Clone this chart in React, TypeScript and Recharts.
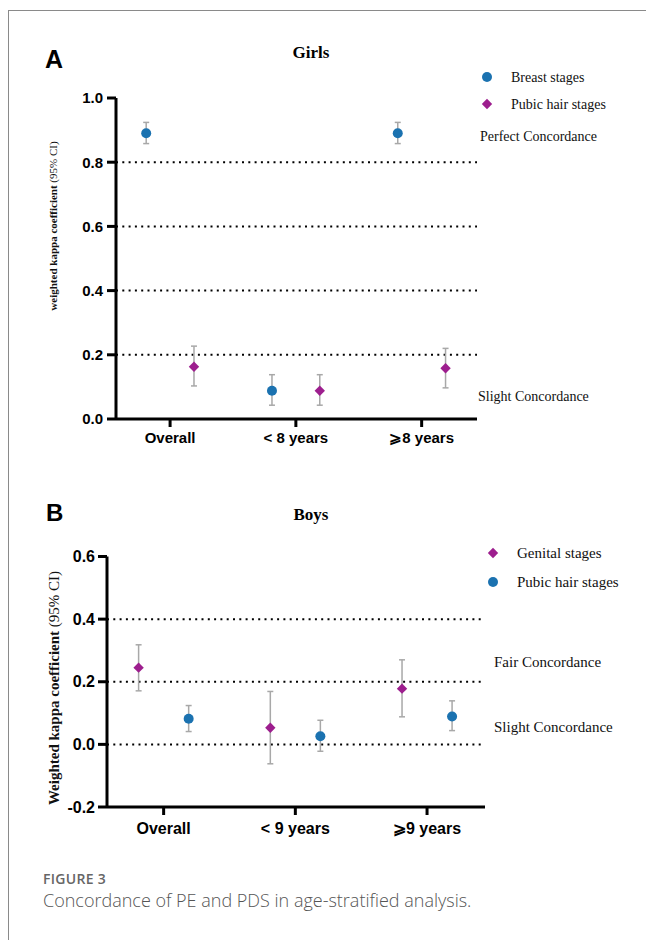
import React from 'react';
import { ScatterChart, Scatter, XAxis, YAxis, ErrorBar, ReferenceLine, Legend } from 'recharts';

// ---------- Data ----------
const girlsCategories = ['Overall', '< 8 years', '\u2A7E8 years'];
const breastKappa = [0.89, 0.088, 0.89];
const breastLow = [0.858, 0.043, 0.858];
const breastHigh = [0.924, 0.138, 0.924];
const girlsPubicKappa = [0.163, 0.088, 0.158];
const girlsPubicLow = [0.103, 0.043, 0.097];
const girlsPubicHigh = [0.227, 0.138, 0.22];
const girlsTicks = [0, 0.2, 0.4, 0.6, 0.8, 1.0];
const girlsRefLines = [0.2, 0.4, 0.6, 0.8];

const boysCategories = ['Overall', '< 9 years', '\u2A7E9 years'];
const genitalKappa = [0.245, 0.053, 0.178];
const genitalLow = [0.171, -0.062, 0.088];
const genitalHigh = [0.318, 0.169, 0.27];
const boysPubicKappa = [0.082, 0.026, 0.089];
const boysPubicLow = [0.041, -0.022, 0.044];
const boysPubicHigh = [0.124, 0.077, 0.139];
const boysTicks = [-0.2, 0, 0.2, 0.4, 0.6];
const boysRefLines = [0, 0.2, 0.4];

// ---------- Styles ----------
const BLUE = '#1b72b0';
const PURPLE = '#9d1e8e';
const ERR = '#a8a8a8';
const SANS = '"Liberation Sans", Arial, sans-serif';
const SERIF = '"Liberation Serif", "Times New Roman", serif';
const OFFSET = 0.19;

function build(vals: number[], lo: number[], hi: number[], shift: number) {
  return vals.map((v, i) => ({ x: i + shift, y: v, err: [v - lo[i], hi[i] - v] }));
}

const CircleShape = (props: any) => (
  <circle cx={props.cx} cy={props.cy} r={5} fill={BLUE} />
);
const DiamondShape = (props: any) => {
  const { cx, cy } = props;
  const s = 5.2;
  return <path d={`M${cx},${cy - s}L${cx + s},${cy}L${cx},${cy + s}L${cx - s},${cy}Z`} fill={PURPLE} />;
};

function LegendBox({ items, fontSize, gap }: { items: { name: string; shape: string }[]; fontSize: number; gap: number }) {
  return (
    <svg width={170} height={60} style={{ overflow: 'visible' }}>
      {items.map((it, i) => {
        const cy = 11 + i * gap;
        return (
          <g key={it.name}>
            {it.shape === 'circle' ? (
              <circle cx={9} cy={cy} r={5} fill={BLUE} />
            ) : (
              <path d={`M9,${cy - 5.2}L14.2,${cy}L9,${cy + 5.2}L3.8,${cy}Z`} fill={PURPLE} />
            )}
            <text x={33} y={cy + fontSize * 0.33} fontFamily={SERIF} fontSize={fontSize} fill="#111">
              {it.name}
            </text>
          </g>
        );
      })}
    </svg>
  );
}

const axisStroke = { stroke: '#000', strokeWidth: 3 };

export default function App() {
  const breastData = build(breastKappa, breastLow, breastHigh, -OFFSET);
  const girlsPubicData = build(girlsPubicKappa, girlsPubicLow, girlsPubicHigh, OFFSET);
  const genitalData = build(genitalKappa, genitalLow, genitalHigh, -OFFSET);
  const boysPubicData = build(boysPubicKappa, boysPubicLow, boysPubicHigh, OFFSET);

  return (
    <div style={{ position: 'absolute', left: 0, top: 0, width: 646, height: 940, overflow: 'hidden', background: '#fff' }}>
      <div style={{ position: 'absolute', left: 8, top: 10, width: 700, height: 1000, borderTop: '1px solid #8a8a8a', borderLeft: '1px solid #8a8a8a' }} />

      {/* Panel A */}
      <div style={{ position: 'absolute', left: 0, top: 0 }}>
        <ScatterChart width={646} height={470} margin={{ top: 98, right: 169, bottom: 11, left: 0 }}>
          <XAxis
            type="number"
            dataKey="x"
            domain={[-0.43, 2.44]}
            ticks={[0, 1, 2]}
            interval={0}
            allowDataOverflow
            tickFormatter={(v: number) => girlsCategories[Math.round(v)]}
            axisLine={axisStroke}
            tickLine={axisStroke}
            tickSize={8}
            tickMargin={5}
            height={40}
            tick={{ fontFamily: SANS, fontWeight: 'bold', fontSize: 15, fill: '#000' }}
          />
          <YAxis
            type="number"
            dataKey="y"
            domain={[0, 1]}
            ticks={girlsTicks}
            interval={0}
            allowDataOverflow
            tickFormatter={(v: number) => v.toFixed(1)}
            axisLine={axisStroke}
            tickLine={axisStroke}
            tickSize={9}
            tickMargin={4}
            width={116}
            tick={{ fontFamily: SANS, fontWeight: 'bold', fontSize: 15, fill: '#000' }}
          />
          {girlsRefLines.map((v) => (
            <ReferenceLine key={v} y={v} stroke="#000" strokeWidth={2} strokeDasharray="2 4.3" />
          ))}
          <Legend
            layout="horizontal"
            verticalAlign="middle"
            align="center"
            wrapperStyle={{ left: 478, top: 66, width: 170, height: 60 }}
            content={() => (
              <LegendBox
                fontSize={14}
                gap={27}
                items={[
                  { name: 'Breast stages', shape: 'circle' },
                  { name: 'Pubic hair stages', shape: 'diamond' },
                ]}
              />
            )}
          />
          <Scatter name="Breast stages" data={breastData} shape={CircleShape} fill={BLUE} isAnimationActive={false}>
            <ErrorBar dataKey="err" direction="y" width={3} stroke={ERR} strokeWidth={1.5} />
          </Scatter>
          <Scatter name="Pubic hair stages" data={girlsPubicData} shape={DiamondShape} fill={PURPLE} isAnimationActive={false}>
            <ErrorBar dataKey="err" direction="y" width={3} stroke={ERR} strokeWidth={1.5} />
          </Scatter>
        </ScatterChart>
      </div>

      {/* Panel B */}
      <div style={{ position: 'absolute', left: 0, top: 480 }}>
        <ScatterChart width={646} height={400} margin={{ top: 76.5, right: 161, bottom: 33, left: 0 }}>
          <XAxis
            type="number"
            dataKey="x"
            domain={[-0.43, 2.44]}
            ticks={[0, 1, 2]}
            interval={0}
            allowDataOverflow
            tickFormatter={(v: number) => boysCategories[Math.round(v)]}
            axisLine={axisStroke}
            tickLine={axisStroke}
            tickSize={8}
            tickMargin={8}
            height={40}
            tick={{ fontFamily: SANS, fontWeight: 'bold', fontSize: 16, fill: '#000' }}
          />
          <YAxis
            type="number"
            dataKey="y"
            domain={[-0.2, 0.6]}
            ticks={boysTicks}
            interval={0}
            allowDataOverflow
            tickFormatter={(v: number) => v.toFixed(1)}
            axisLine={axisStroke}
            tickLine={axisStroke}
            tickSize={9}
            tickMargin={3}
            width={107}
            tick={{ fontFamily: SANS, fontWeight: 'bold', fontSize: 16, fill: '#000' }}
          />
          {boysRefLines.map((v) => (
            <ReferenceLine key={v} y={v} stroke="#000" strokeWidth={2} strokeDasharray="2 4.3" />
          ))}
          <Legend
            layout="horizontal"
            verticalAlign="middle"
            align="center"
            wrapperStyle={{ left: 484, top: 62, width: 170, height: 60 }}
            content={() => (
              <LegendBox
                fontSize={15}
                gap={29}
                items={[
                  { name: 'Genital stages', shape: 'diamond' },
                  { name: 'Pubic hair stages', shape: 'circle' },
                ]}
              />
            )}
          />
          <Scatter name="Genital stages" data={genitalData} shape={DiamondShape} fill={PURPLE} isAnimationActive={false}>
            <ErrorBar dataKey="err" direction="y" width={3} stroke={ERR} strokeWidth={1.5} />
          </Scatter>
          <Scatter name="Pubic hair stages" data={boysPubicData} shape={CircleShape} fill={BLUE} isAnimationActive={false}>
            <ErrorBar dataKey="err" direction="y" width={3} stroke={ERR} strokeWidth={1.5} />
          </Scatter>
        </ScatterChart>
      </div>

      {/* Annotations overlay */}
      <svg width={646} height={940} style={{ position: 'absolute', left: 0, top: 0, pointerEvents: 'none' }}>
        <text x={45} y={68} fontFamily={SANS} fontWeight="bold" fontSize={25} fill="#000">A</text>
        <text x={311} y={58} textAnchor="middle" fontFamily={SERIF} fontWeight="bold" fontSize={17} fill="#000">Girls</text>
        <text x={480} y={141} fontFamily={SERIF} fontSize={14} fill="#111">Perfect Concordance</text>
        <text x={478} y={401} fontFamily={SERIF} fontSize={14} fill="#111">Slight Concordance</text>
        <text transform="translate(57,226) rotate(-90)" textAnchor="middle" fontFamily={SERIF} fontSize={11} fill="#111">
          <tspan fontWeight="bold">weighted kappa coefficient</tspan>
          <tspan> (95% CI)</tspan>
        </text>

        <text x={46} y={521} fontFamily={SANS} fontWeight="bold" fontSize={24} fill="#000">B</text>
        <text x={311} y={520} textAnchor="middle" fontFamily={SERIF} fontWeight="bold" fontSize={17} fill="#000">Boys</text>
        <text x={494} y={667} fontFamily={SERIF} fontSize={15} fill="#111">Fair Concordance</text>
        <text x={494} y={732} fontFamily={SERIF} fontSize={15} fill="#111">Slight Concordance</text>
        <text transform="translate(59,688) rotate(-90)" textAnchor="middle" fontFamily={SERIF} fontSize={15} fill="#111">
          <tspan fontWeight="bold">Weighted kappa coefficient</tspan>
          <tspan> (95% CI)</tspan>
        </text>

        <text x={43} y={884} fontFamily='"Open Sans", sans-serif' fontWeight={600} fontSize={14} letterSpacing={0.3} fill="#666">FIGURE 3</text>
        <text x={43} y={907} fontFamily='"Open Sans", sans-serif' fontWeight={300} fontSize={18} fill="#555">
          Concordance of PE and PDS in age-stratified analysis.
        </text>
      </svg>
    </div>
  );
}
